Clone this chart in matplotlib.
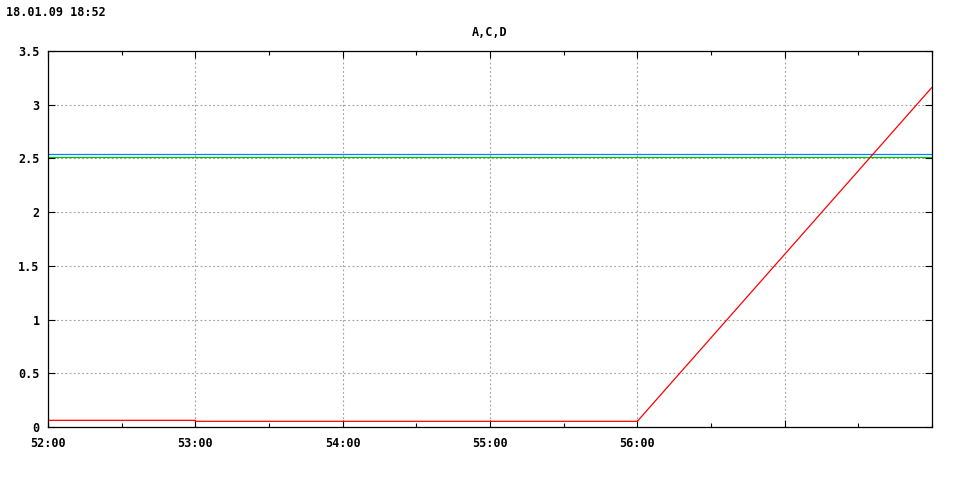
import matplotlib
matplotlib.use("Agg")
import matplotlib.pyplot as plt
from matplotlib.ticker import FixedLocator, MultipleLocator

title = "A,C,D"
timestamp = "18.01.09 18:52"

# x in minutes (52 -> 52:00)
red_x = [52, 53, 53, 56, 58]
red_y = [0.062, 0.062, 0.053, 0.053, 3.162]
blue_x = [52, 53, 53, 55, 55, 58]
blue_y = [2.538, 2.538, 2.544, 2.544, 2.538, 2.538]
green_x = [52, 58]
green_y = [2.510, 2.510]

xtick_pos = [52, 53, 54, 55, 56, 57]
xtick_labels = ["52:00", "53:00", "54:00", "55:00", "56:00", ""]
ytick_pos = [0, 0.5, 1, 1.5, 2, 2.5, 3, 3.5]
ytick_labels = ["0", "0.5", "1", "1.5", "2", "2.5", "3", "3.5"]

font = dict(family="DejaVu Sans Mono", fontweight="bold", fontsize=8.5)

fig = plt.figure(figsize=(9.6, 4.8), dpi=100)
ax = fig.add_axes([48/960, 53/480, 884/960, 376/480])

ax.plot(green_x, green_y, color="#00c000", lw=0.9, solid_capstyle="butt")
ax.plot(blue_x, blue_y, color="#0080ff", lw=0.9, solid_capstyle="butt")
ax.plot(red_x, red_y, color="#ff0000", lw=0.9, solid_capstyle="butt")

ax.set_xlim(52, 58)
ax.set_ylim(0, 3.5)
ax.xaxis.set_major_locator(FixedLocator(xtick_pos))
ax.set_xticklabels(xtick_labels, **font)
ax.xaxis.set_minor_locator(MultipleLocator(0.5))
ax.yaxis.set_major_locator(FixedLocator(ytick_pos))
ax.set_yticklabels(ytick_labels, **font)

ax.tick_params(which="major", direction="in", length=5, width=0.8, top=True, right=True,
               pad=7, colors="black")
ax.tick_params(which="minor", direction="in", length=3, width=0.8, top=True, right=False)
ax.tick_params(axis="y", which="major", pad=6)
ax.grid(True, which="major", color="#a0a0a0", linestyle=(0, (1.6, 2.2)), linewidth=0.8)
ax.set_axisbelow(True)
for s in ax.spines.values():
    s.set_linewidth(0.9)
    s.set_color("black")

fig.text(490/960, 1 - 32/480, title, ha="center", va="center", **font)
fig.text(6/960, 1 - 13/480, timestamp, ha="left", va="center", **font)

fig.savefig("out.png", dpi=100)
